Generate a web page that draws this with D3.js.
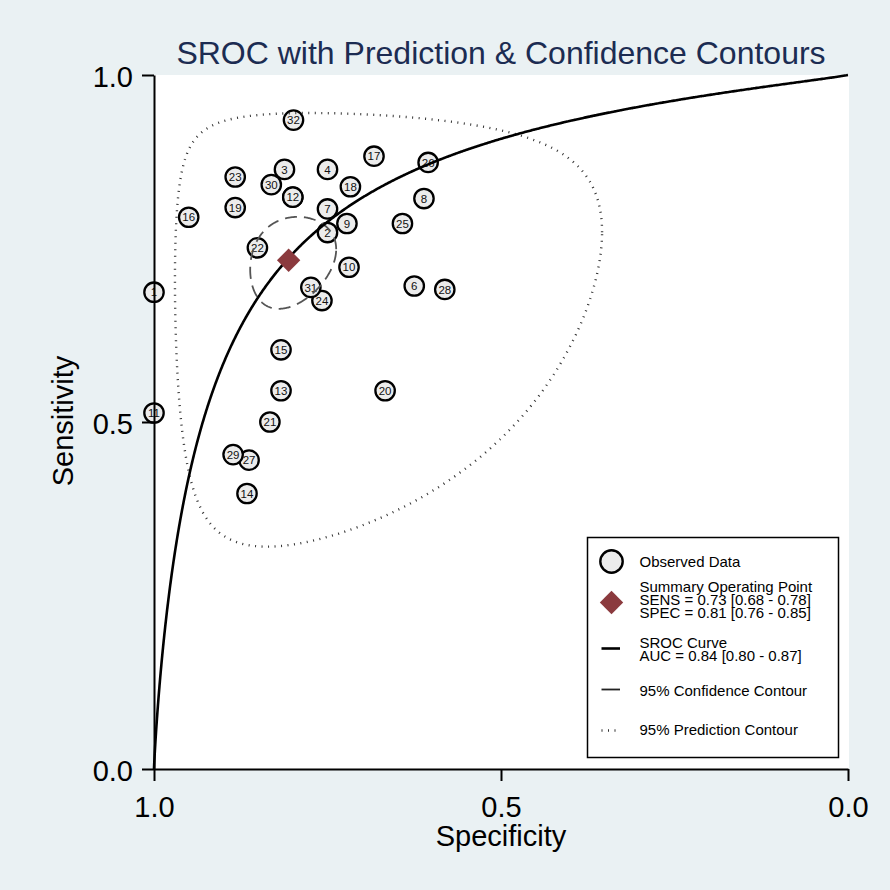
<!DOCTYPE html>
<html>
<head>
<meta charset="utf-8">
<script src="https://cdn.jsdelivr.net/npm/d3@7"></script>
<style>
  html, body { margin: 0; padding: 0; background: #eaf1f3; }
  svg { display: block; }
  text { font-family: Arial, "Liberation Sans", sans-serif; }
</style>
</head>
<body>
<svg id="chart" width="890" height="890"></svg>
<script>
// ---- Data ----
const studyIds = [1, 2, 3, 4, 5, 6, 7, 8, 9, 10, 11, 12, 13, 14, 15, 16,
                  17, 18, 19, 20, 21, 22, 23, 24, 25, 26, 27, 28, 29, 30, 31, 32];
const specificity = [1.000, 0.750, 0.812, 0.750, 0.800, 0.625, 0.750, 0.611, 0.722, 0.719, 1.000, 0.800, 0.817, 0.866, 0.817, 0.950,
                     0.683, 0.717, 0.883, 0.667, 0.833, 0.851, 0.883, 0.758, 0.642, 0.605, 0.863, 0.581, 0.886, 0.831, 0.774, 0.799];
const sensitivity = [0.687, 0.773, 0.864, 0.864, 0.824, 0.696, 0.807, 0.822, 0.786, 0.723, 0.513, 0.824, 0.545, 0.397, 0.604, 0.795,
                     0.883, 0.839, 0.809, 0.545, 0.500, 0.751, 0.853, 0.675, 0.786, 0.874, 0.445, 0.691, 0.453, 0.842, 0.694, 0.935];

// Summary operating point
const summarySens = 0.733;
const summarySpec = 0.806;

// SROC curve: logit(sens) = alpha + beta * logit(1 - spec)
const srocAlpha = 2.29;
const srocBeta = 0.887;

// Contours (ellipses in logit space: [logit FPR centre, logit sens centre, sd x, sd y, correlation])
const confidenceEllipse = [-1.43, 1.018, 0.397, 0.341, 0.22];
const predictionEllipse = [-1.435, 1.048, 2.035, 1.80, 0.10];

// Axis ticks and texts
const tickValues = [0, 0.5, 1];
const titleText = "SROC with Prediction & Confidence Contours";
const xTitle = "Specificity";
const yTitle = "Sensitivity";
const legendObserved = ["Observed Data"];
const legendSummary = ["Summary Operating Point", "SENS = 0.73 [0.68 - 0.78]", "SPEC = 0.81 [0.76 - 0.85]"];
const legendSroc = ["SROC Curve", "AUC = 0.84 [0.80 - 0.87]"];
const legendConf = ["95% Confidence Contour"];
const legendPred = ["95% Prediction Contour"];

// ---- Drawing ----
const svg = d3.select("#chart");
const L = 154, R = 848, T = 75, B = 769;
const x = d3.scaleLinear().domain([1, 0]).range([L, R]);
const y = d3.scaleLinear().domain([0, 1]).range([B, T]);

const logit = p => Math.log(p / (1 - p));
const invlogit = v => 1 / (1 + Math.exp(-v));

svg.append("rect").attr("width", 890).attr("height", 890).attr("fill", "#eaf1f3");
svg.append("rect").attr("x", L).attr("y", T).attr("width", R - L + 1).attr("height", B - T).attr("fill", "#ffffff");

// Observed points
const pts = studyIds.map((id, i) => ({ id, spec: specificity[i], sens: sensitivity[i] }));
const g = svg.append("g");
const pg = g.selectAll("g.pt").data(pts).join("g").attr("class", "pt")
  .attr("transform", d => `translate(${x(d.spec)},${y(d.sens)})`);
pg.append("circle").attr("r", 9.7).attr("fill", "#ececec").attr("stroke", "#000").attr("stroke-width", 2.3);
pg.append("text").text(d => d.id).attr("text-anchor", "middle").attr("dy", "0.36em")
  .attr("font-size", 11.5).attr("fill", "#111");

// Ellipse contours
function ellipsePoints(p) {
  const [cx, cy, sx, sy, rho] = p;
  const phi = Math.acos(rho);
  const arr = [];
  for (let k = 0; k <= 360; k++) {
    const t = k / 360 * 2 * Math.PI;
    const lx = cx + sx * Math.cos(t);
    const ly = cy + sy * Math.cos(t - phi);
    arr.push({ spec: 1 - invlogit(lx), sens: invlogit(ly) });
  }
  return arr;
}
const line = d3.line().x(d => x(d.spec)).y(d => y(d.sens)).curve(d3.curveLinear);

g.append("path").datum(ellipsePoints(predictionEllipse)).attr("d", line)
  .attr("fill", "none").attr("stroke", "#333").attr("stroke-width", 2.4).attr("stroke-dasharray", "1,5.5");
g.append("path").datum(ellipsePoints(confidenceEllipse)).attr("d", line)
  .attr("fill", "none").attr("stroke", "#555").attr("stroke-width", 1.8).attr("stroke-dasharray", "12,7");

// SROC curve
const srocPts = [{ spec: 1, sens: 0 }];
for (let k = 1; k < 1000; k++) {
  const fpr = Math.pow(k / 1000, 2.2);
  if (fpr <= 0 || fpr >= 1) continue;
  srocPts.push({ spec: 1 - fpr, sens: invlogit(srocAlpha + srocBeta * logit(fpr)) });
}
for (let k = 1; k <= 200; k++) {
  const fpr = 0.1 + 0.9 * k / 201;
  srocPts.push({ spec: 1 - fpr, sens: invlogit(srocAlpha + srocBeta * logit(fpr)) });
}
srocPts.sort((a, b) => b.spec - a.spec);
srocPts.push({ spec: 0, sens: 1 });
g.append("path").datum(srocPts).attr("d", line)
  .attr("fill", "none").attr("stroke", "#000").attr("stroke-width", 2.6);

// Summary diamond
g.append("path")
  .attr("d", `M0,-11.7L11.7,0L0,11.7L-11.7,0Z`)
  .attr("transform", `translate(${x(summarySpec)},${y(summarySens)})`)
  .attr("fill", "#8b3a3e");

// Axes
const yAxis = d3.axisLeft(y).tickValues(tickValues).tickFormat(d3.format(".1f")).tickSize(12).tickSizeOuter(0).tickPadding(9);
const xAxis = d3.axisBottom(x).tickValues(tickValues).tickFormat(d3.format(".1f")).tickSize(12).tickSizeOuter(0).tickPadding(15);
const ya = svg.append("g").attr("transform", `translate(${L},0)`).call(yAxis);
const xa = svg.append("g").attr("transform", `translate(0,${B})`).call(xAxis);
[ya, xa].forEach(a => {
  a.select(".domain").attr("stroke", "#000").attr("stroke-width", 2);
  a.selectAll(".tick line").attr("stroke", "#000").attr("stroke-width", 2);
  a.selectAll(".tick text").attr("font-size", 29).attr("fill", "#000")
    .attr("font-family", "Arial, 'Liberation Sans', sans-serif");
});
ya.selectAll(".tick text").attr("dy", "0.38em");

// Titles
svg.append("text").attr("x", 501).attr("y", 64).attr("text-anchor", "middle")
  .attr("font-size", 32).attr("fill", "#1c2c52").text(titleText);
svg.append("text").attr("x", 501).attr("y", 846).attr("text-anchor", "middle")
  .attr("font-size", 29).attr("fill", "#000").text(xTitle);
svg.append("text").attr("transform", "translate(73,421) rotate(-90)").attr("text-anchor", "middle")
  .attr("font-size", 29).attr("fill", "#000").text(yTitle);

// Legend
const lg = svg.append("g");
lg.append("rect").attr("x", 587.5).attr("y", 537.5).attr("width", 251).attr("height", 220)
  .attr("fill", "#fff").attr("stroke", "#000").attr("stroke-width", 1.5);
const sx0 = 611.5, tx = 639.5, lh = 13, fs = 15;
function legendText(lines, baseline) {
  lines.forEach((s, i) => {
    lg.append("text").attr("x", tx).attr("y", baseline + i * lh).attr("font-size", fs).attr("fill", "#000").text(s);
  });
}
lg.append("circle").attr("cx", sx0).attr("cy", 561.5).attr("r", 11.2).attr("fill", "#ececec")
  .attr("stroke", "#000").attr("stroke-width", 2.4);
legendText(legendObserved, 566.5);
lg.append("path").attr("d", `M0,-11.7L11.7,0L0,11.7L-11.7,0Z`)
  .attr("transform", `translate(${sx0},602.5)`).attr("fill", "#8b3a3e");
legendText(legendSummary, 592);
lg.append("line").attr("x1", 601.5).attr("x2", 620).attr("y1", 648.5).attr("y2", 648.5)
  .attr("stroke", "#000").attr("stroke-width", 2.6);
legendText(legendSroc, 647.5);
lg.append("line").attr("x1", 601.5).attr("x2", 620).attr("y1", 689.5).attr("y2", 689.5)
  .attr("stroke", "#222").attr("stroke-width", 1.8);
legendText(legendConf, 695.5);
lg.append("line").attr("x1", 601.5).attr("x2", 621).attr("y1", 730.5).attr("y2", 730.5)
  .attr("stroke", "#333").attr("stroke-width", 2.4).attr("stroke-dasharray", "1,5.5");
legendText(legendPred, 735);
</script>
</body>
</html>
